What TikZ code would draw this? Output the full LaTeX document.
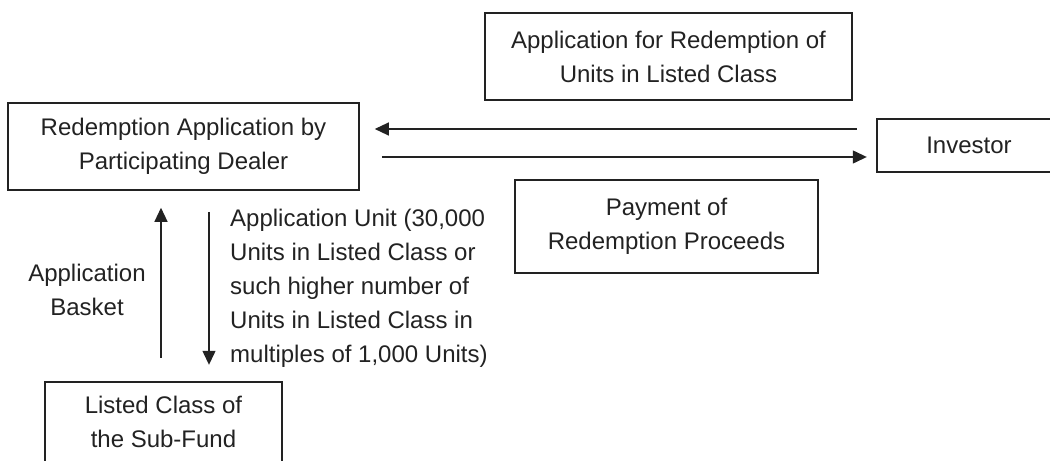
\documentclass[tikz,border=0pt]{standalone}
\usepackage{fontspec}
\setmainfont{Liberation Sans}
\usetikzlibrary{arrows.meta,calc}
\definecolor{ink}{HTML}{222222}
\tikzset{
  lbl/.style={inner sep=0pt, align=center, text=ink, font=\fontsize{24bp}{34bp}\selectfont},
  boxed/.style={lbl, draw=ink, line width=1.6bp},
  openbox/.style={draw=ink, line width=1.6bp},
  arr/.style={draw=ink, line width=1.3bp, -{Triangle[length=14bp,width=13bp]}},
}
\begin{document}
\begin{tikzpicture}[x=1bp,y=-1bp]
\path[use as bounding box] (0,0) rectangle (1050,461);
\coordinate (edgeR) at (1050,0);
\coordinate (edgeB) at (0,461);

\node[boxed, minimum width=351bp, minimum height=87bp] (dealer) at (183.5,146.5)
  {Redemption Application by\\Participating Dealer};
\node[boxed, minimum width=367bp, minimum height=87bp] (req) at (668.5,56.5)
  {Application for Redemption of\\Units in Listed Class};
\node[boxed, minimum width=303bp, minimum height=93bp] (pay) at (666.5,226.5)
  {Payment of\\Redemption Proceeds};
\node[lbl, minimum width=184bp, minimum height=53bp] (inv) at (969,145.5) {Investor};
\draw[openbox] (inv.north west -| edgeR) -- (inv.north west) -- (inv.south west) -- (inv.south west -| edgeR);
\node[lbl, minimum width=237bp, minimum height=79bp] (fund) at (163.5,421.5)
  {Listed Class of\\the Sub-Fund};
\draw[openbox] (fund.south west) -- (fund.north west) -- (fund.north east) -- (fund.south east);

\node[lbl, align=left, anchor=west] (unitlbl) at (230,288)
  {Application Unit (30,000\\Units in Listed Class or\\such higher number of\\Units in Listed Class in\\multiples of 1,000 Units)};
\node[lbl] (basketlbl) at (87,289.5) {Application\\Basket};

\draw[arr, shorten <=20bp, shorten >=15bp] (inv.west |- 0,129) -- (dealer.east |- 0,129);
\draw[arr, shorten <=22bp, shorten >=10bp] (dealer.east |- 0,157) -- (inv.west |- 0,157);
\draw[arr, shorten <=24bp, shorten >=17bp] (fund.north -| 161,0) -- (dealer.south -| 161,0);
\draw[arr, shorten <=21bp, shorten >=17bp] (dealer.south -| 209,0) -- (fund.north -| 209,0);
\end{tikzpicture}
\end{document}
